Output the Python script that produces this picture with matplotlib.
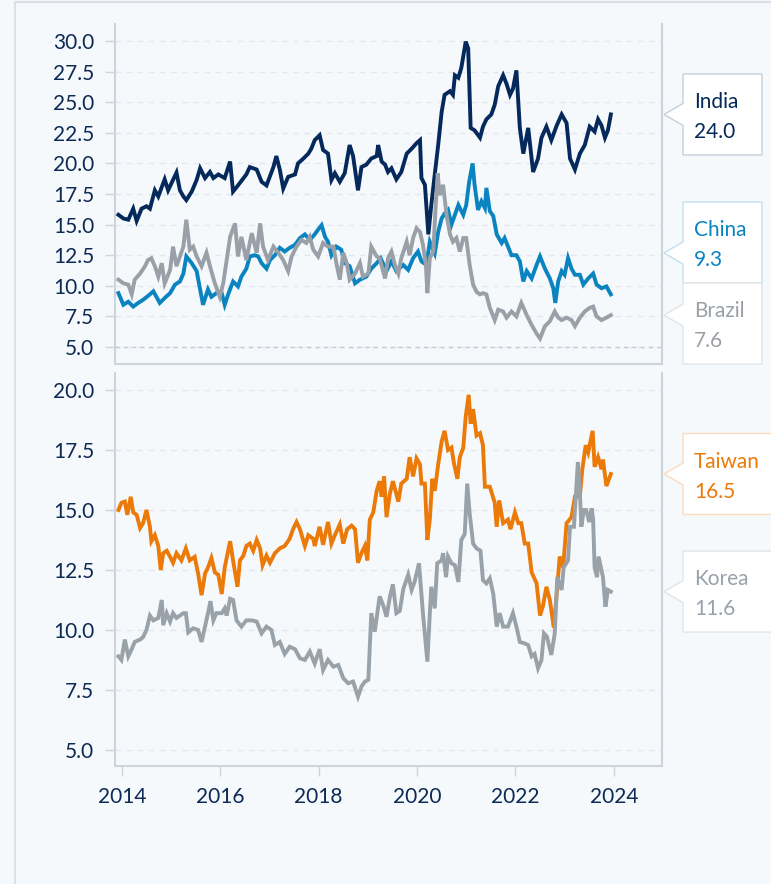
import matplotlib.pyplot as plt
from matplotlib.patches import Polygon
from matplotlib.lines import Line2D

plt.rcParams['font.family'] = ['Lato', 'DejaVu Sans']

W, H = 771, 884
BG = '#f5f9fc'
TEXT = '#0d2a55'
SPINE = '#cdd4dc'
GRID = '#e3e8ee'

# ---- data (decimal years) ----
india_x = [2013.93, 2014.03, 2014.13, 2014.23, 2014.30, 2014.40, 2014.50, 2014.57, 2014.67, 2014.74,
           2014.87, 2014.94, 2015.01, 2015.11, 2015.18, 2015.25, 2015.31, 2015.42, 2015.52, 2015.59,
           2015.69, 2015.79, 2015.86, 2015.96, 2016.09, 2016.20, 2016.26, 2016.36, 2016.53, 2016.60,
           2016.74, 2016.84, 2016.94, 2017.08, 2017.14, 2017.21, 2017.28, 2017.38, 2017.52, 2017.58,
           2017.69, 2017.79, 2017.85, 2017.92, 2018.02, 2018.09, 2018.19, 2018.26, 2018.33, 2018.43,
           2018.53, 2018.63, 2018.70, 2018.80, 2018.87, 2018.97, 2019.07, 2019.18, 2019.21, 2019.28,
           2019.35, 2019.41, 2019.48, 2019.58, 2019.68, 2019.79, 2019.89, 2019.99, 2020.06, 2020.09,
           2020.16, 2020.23, 2020.29, 2020.36, 2020.43, 2020.50, 2020.56, 2020.67, 2020.73, 2020.77,
           2020.84, 2020.90, 2020.99, 2021.04, 2021.09, 2021.17, 2021.28, 2021.34, 2021.41, 2021.51,
           2021.58, 2021.65, 2021.75, 2021.82, 2021.89, 2021.95, 2022.02, 2022.09, 2022.16, 2022.26,
           2022.36, 2022.46, 2022.53, 2022.63, 2022.73, 2022.84, 2022.94, 2023.04, 2023.11, 2023.21,
           2023.31, 2023.41, 2023.51, 2023.61, 2023.68, 2023.75, 2023.82, 2023.88, 2023.94]
india_y = [15.8, 15.5, 15.4, 16.3, 15.3, 16.3, 16.5, 16.3, 17.8, 17.3,
           18.7, 17.8, 18.4, 19.25, 17.8, 17.3, 17.0, 17.7, 18.65, 19.6,
           18.8, 19.3, 18.8, 19.1, 18.8, 20.15, 17.7, 18.2, 19.1, 19.7,
           19.5, 18.5, 18.2, 19.7, 20.6, 19.5, 17.95, 18.9, 19.1, 20.0,
           20.4, 20.8, 21.2, 21.9, 22.3, 21.1, 20.8, 18.65, 19.2, 18.5,
           19.2, 21.5, 20.6, 17.8, 19.7, 19.9, 20.4, 20.6, 21.5, 20.15,
           19.9, 19.3, 19.6, 18.7, 19.3, 20.8, 21.2, 21.65, 21.9, 18.8,
           18.25, 14.2, 16.6, 19.1, 21.5, 24.2, 25.6, 25.9, 25.6, 27.2,
           27.0, 27.8, 29.95, 29.4, 22.9, 22.7, 22.1, 23.0, 23.6, 24.0,
           24.8, 26.3, 27.2, 26.5, 25.6, 26.1, 27.6, 22.9, 20.8, 22.9,
           19.3, 20.4, 22.1, 23.0, 21.9, 23.1, 24.0, 23.3, 20.4, 19.5,
           20.8, 21.5, 23.0, 22.6, 23.6, 23.1, 22.1, 22.7, 24.0]

china_x = [2013.93, 2014.03, 2014.13, 2014.23, 2014.33, 2014.43, 2014.57, 2014.64, 2014.77, 2014.87,
           2014.98, 2015.08, 2015.18, 2015.25, 2015.31, 2015.42, 2015.52, 2015.59, 2015.65, 2015.75,
           2015.82, 2015.92, 2016.03, 2016.09, 2016.16, 2016.26, 2016.36, 2016.43, 2016.53, 2016.60,
           2016.70, 2016.77, 2016.84, 2016.94, 2017.01, 2017.11, 2017.21, 2017.31, 2017.41, 2017.52,
           2017.62, 2017.72, 2017.82, 2017.92, 2017.99, 2018.06, 2018.13, 2018.19, 2018.26, 2018.36,
           2018.46, 2018.53, 2018.63, 2018.74, 2018.84, 2018.97, 2019.07, 2019.18, 2019.26, 2019.38,
           2019.48, 2019.58, 2019.72, 2019.82, 2019.92, 2020.02, 2020.09, 2020.19, 2020.26, 2020.36,
           2020.43, 2020.50, 2020.56, 2020.63, 2020.70, 2020.77, 2020.84, 2020.94, 2021.00, 2021.06,
           2021.13, 2021.17, 2021.24, 2021.31, 2021.38, 2021.41, 2021.48, 2021.55, 2021.62, 2021.72,
           2021.78, 2021.85, 2021.92, 2022.02, 2022.09, 2022.16, 2022.23, 2022.33, 2022.43, 2022.50,
           2022.60, 2022.70, 2022.77, 2022.81, 2022.87, 2022.94, 2023.00, 2023.07, 2023.14, 2023.21,
           2023.31, 2023.38, 2023.48, 2023.58, 2023.65, 2023.75, 2023.85, 2023.94]
china_y = [9.4, 8.45, 8.7, 8.3, 8.6, 8.85, 9.3, 9.55, 8.6, 9.0,
           9.4, 10.1, 10.35, 11.0, 12.4, 11.85, 11.2, 9.7, 8.45, 9.7,
           9.1, 9.4, 9.4, 8.45, 9.3, 10.35, 9.95, 10.75, 11.4, 12.4,
           12.5, 12.4, 11.85, 11.4, 12.1, 12.5, 13.1, 12.8, 13.1, 13.35,
           13.9, 14.2, 13.75, 14.2, 14.6, 14.95, 14.0, 13.6, 12.5, 13.2,
           12.95, 11.85, 11.6, 10.2, 10.5, 10.75, 11.4, 11.85, 12.25, 11.2,
           12.0, 11.2, 11.7, 11.3, 12.26, 12.8, 12.0, 11.7, 13.6, 12.65,
           14.4, 15.5, 15.9, 16.2, 15.0, 15.8, 16.6, 15.8, 16.6, 18.5,
           20.0, 18.25, 16.2, 16.9, 16.35, 18.0, 16.1, 15.7, 14.2, 13.5,
           13.9, 13.2, 12.5, 12.5, 12.0, 10.36, 11.2, 10.6, 11.7, 12.4,
           11.4, 10.6, 9.8, 8.6, 10.36, 11.2, 10.9, 12.26, 11.4, 10.9,
           10.9, 10.1, 10.6, 11.0, 10.1, 9.8, 9.95, 9.3]

brazil_x = [2013.93, 2014.03, 2014.13, 2014.20, 2014.26, 2014.37, 2014.47, 2014.53, 2014.60, 2014.67,
            2014.74, 2014.81, 2014.87, 2014.98, 2015.04, 2015.11, 2015.18, 2015.25, 2015.31, 2015.38,
            2015.45, 2015.52, 2015.62, 2015.72, 2015.79, 2015.89, 2015.99, 2016.06, 2016.13, 2016.20,
            2016.30, 2016.36, 2016.43, 2016.53, 2016.64, 2016.74, 2016.81, 2016.87, 2016.97, 2017.08,
            2017.18, 2017.28, 2017.38, 2017.45, 2017.55, 2017.65, 2017.75, 2017.82, 2017.89, 2017.99,
            2018.09, 2018.19, 2018.30, 2018.36, 2018.43, 2018.50, 2018.57, 2018.63, 2018.74, 2018.84,
            2018.90, 2019.01, 2019.07, 2019.18, 2019.24, 2019.35, 2019.41, 2019.48, 2019.55, 2019.62,
            2019.68, 2019.79, 2019.85, 2019.92, 2019.99, 2020.06, 2020.12, 2020.18, 2020.21, 2020.26,
            2020.33, 2020.38, 2020.42, 2020.46, 2020.53, 2020.60, 2020.67, 2020.73, 2020.80, 2020.87,
            2020.94, 2021.00, 2021.07, 2021.14, 2021.21, 2021.28, 2021.34, 2021.41, 2021.48, 2021.58,
            2021.65, 2021.75, 2021.82, 2021.92, 2022.02, 2022.12, 2022.23, 2022.33, 2022.43, 2022.50,
            2022.60, 2022.70, 2022.80, 2022.87, 2022.94, 2023.04, 2023.14, 2023.21, 2023.31, 2023.41,
            2023.51, 2023.58, 2023.65, 2023.75, 2023.85, 2023.94]
brazil_y = [10.5, 10.2, 10.1, 9.3, 10.5, 11.0, 11.6, 12.1, 12.25, 11.6,
            10.75, 11.85, 10.2, 11.3, 13.2, 11.6, 12.4, 13.2, 15.4, 12.95,
            13.2, 12.4, 11.6, 12.7, 11.6, 10.2, 9.1, 10.2, 12.1, 14.0,
            15.1, 12.4, 14.0, 12.1, 14.3, 12.7, 15.1, 13.2, 12.1, 13.2,
            12.7, 12.1, 11.2, 12.4, 13.2, 13.75, 13.5, 14.0, 12.95, 12.4,
            13.5, 13.2, 13.2, 11.85, 10.5, 12.7, 11.85, 10.5, 11.0, 11.85,
            10.75, 11.0, 13.2, 12.4, 12.26, 10.6, 12.26, 12.8, 11.7, 11.0,
            12.26, 13.6, 12.5, 13.9, 14.7, 14.4, 13.35, 11.7, 9.4, 12.26,
            12.8, 16.6, 19.2, 17.4, 18.25, 15.8, 14.2, 13.6, 13.9, 12.8,
            13.9, 13.9, 11.7, 10.1, 9.5, 9.3, 9.4, 9.3, 8.2, 7.2,
            8.05, 7.9, 7.4, 7.9, 7.5, 8.6, 7.6, 6.8, 6.1, 5.7,
            6.7, 7.1, 7.9, 7.4, 7.2, 7.4, 7.2, 6.7, 7.4, 7.9,
            8.2, 8.3, 7.5, 7.2, 7.4, 7.6]

taiwan_x = [2013.93, 2013.99, 2014.06, 2014.11, 2014.18, 2014.23, 2014.30, 2014.37, 2014.43, 2014.50,
            2014.57, 2014.60, 2014.67, 2014.74, 2014.79, 2014.84, 2014.91, 2014.98, 2015.04, 2015.11,
            2015.21, 2015.30, 2015.38, 2015.48, 2015.55, 2015.62, 2015.69, 2015.75, 2015.82, 2015.89,
            2015.96, 2016.03, 2016.09, 2016.20, 2016.26, 2016.35, 2016.40, 2016.47, 2016.53, 2016.60,
            2016.67, 2016.74, 2016.81, 2016.86, 2016.94, 2017.01, 2017.11, 2017.21, 2017.31, 2017.41,
            2017.48, 2017.55, 2017.62, 2017.72, 2017.79, 2017.89, 2017.92, 2018.02, 2018.09, 2018.16,
            2018.19, 2018.26, 2018.33, 2018.43, 2018.50, 2018.58, 2018.67, 2018.74, 2018.80, 2018.87,
            2018.94, 2018.99, 2019.04, 2019.11, 2019.18, 2019.24, 2019.28, 2019.33, 2019.38, 2019.45,
            2019.51, 2019.62, 2019.68, 2019.79, 2019.85, 2019.92, 2019.99, 2020.06, 2020.09, 2020.16,
            2020.21, 2020.26, 2020.31, 2020.36, 2020.43, 2020.50, 2020.56, 2020.63, 2020.70, 2020.75,
            2020.82, 2020.87, 2020.94, 2020.99, 2021.05, 2021.09, 2021.14, 2021.21, 2021.28, 2021.34,
            2021.38, 2021.48, 2021.58, 2021.62, 2021.67, 2021.75, 2021.85, 2021.90, 2021.99, 2022.06,
            2022.12, 2022.19, 2022.26, 2022.33, 2022.43, 2022.50, 2022.56, 2022.63, 2022.70, 2022.78,
            2022.84, 2022.90, 2022.97, 2023.04, 2023.14, 2023.21, 2023.31, 2023.36, 2023.43, 2023.48,
            2023.53, 2023.57, 2023.61, 2023.68, 2023.75, 2023.78, 2023.85, 2023.94]
taiwan_y = [15.0, 15.3, 15.35, 14.8, 15.55, 14.9, 14.8, 14.25, 14.45, 15.0,
            14.3, 13.7, 13.95, 13.5, 12.5, 13.2, 13.3, 13.05, 12.8, 13.2,
            12.9, 13.4, 12.9, 13.05, 12.35, 11.45, 12.35, 12.6, 13.0, 12.4,
            12.3, 11.5, 12.6, 13.7, 12.9, 11.8, 12.9, 13.1, 13.5, 13.6,
            13.3, 13.75, 13.4, 12.7, 13.1, 12.8, 13.2, 13.4, 13.5, 13.8,
            14.2, 14.5, 14.2, 13.5, 13.95, 13.8, 13.5, 14.3, 13.55, 14.2,
            14.5, 13.6, 13.95, 14.4, 13.6, 14.2, 14.35, 14.2, 12.8, 13.2,
            13.5, 12.9, 14.6, 14.9, 15.8, 16.2, 15.55, 16.4, 14.7, 15.7,
            16.2, 15.35, 16.1, 16.3, 17.2, 16.4, 17.15, 16.9, 16.1, 16.1,
            13.75, 14.6, 16.3, 15.8, 16.9, 17.85, 18.3, 17.5, 17.6, 16.95,
            16.3, 17.2, 17.6, 18.9, 19.8, 18.6, 19.2, 18.1, 18.2, 17.7,
            15.97, 15.97, 15.3, 14.3, 15.4, 14.45, 14.6, 14.2, 14.9, 14.45,
            14.45, 13.6, 13.6, 12.4, 11.95, 10.6, 11.0, 11.8, 11.25, 10.1,
            11.5, 13.06, 12.6, 14.45, 14.7, 15.56, 15.56, 16.7, 17.7, 17.4,
            17.9, 18.3, 16.8, 17.2, 16.7, 17.1, 16.0, 16.5]

korea_x = [2013.93, 2013.99, 2014.06, 2014.13, 2014.20, 2014.26, 2014.37, 2014.43, 2014.50, 2014.57,
           2014.64, 2014.74, 2014.81, 2014.84, 2014.91, 2014.98, 2015.04, 2015.11, 2015.18, 2015.25,
           2015.30, 2015.35, 2015.45, 2015.55, 2015.62, 2015.69, 2015.75, 2015.80, 2015.86, 2015.92,
           2016.03, 2016.09, 2016.13, 2016.20, 2016.26, 2016.33, 2016.43, 2016.53, 2016.64, 2016.74,
           2016.84, 2016.94, 2017.04, 2017.11, 2017.21, 2017.31, 2017.41, 2017.52, 2017.62, 2017.72,
           2017.82, 2017.92, 2018.02, 2018.09, 2018.19, 2018.30, 2018.40, 2018.50, 2018.60, 2018.70,
           2018.80, 2018.87, 2018.94, 2019.01, 2019.07, 2019.14, 2019.24, 2019.31, 2019.38, 2019.45,
           2019.51, 2019.58, 2019.65, 2019.72, 2019.82, 2019.89, 2019.95, 2020.04, 2020.12, 2020.21,
           2020.26, 2020.29, 2020.36, 2020.41, 2020.50, 2020.53, 2020.59, 2020.63, 2020.70, 2020.77,
           2020.84, 2020.90, 2020.97, 2021.02, 2021.07, 2021.14, 2021.21, 2021.29, 2021.34, 2021.41,
           2021.48, 2021.55, 2021.62, 2021.68, 2021.75, 2021.85, 2021.95, 2022.02, 2022.09, 2022.19,
           2022.26, 2022.33, 2022.39, 2022.46, 2022.53, 2022.58, 2022.64, 2022.73, 2022.80, 2022.85,
           2022.94, 2022.98, 2023.07, 2023.11, 2023.19, 2023.24, 2023.27, 2023.31, 2023.34, 2023.39,
           2023.44, 2023.50, 2023.55, 2023.58, 2023.61, 2023.66, 2023.69, 2023.75, 2023.78, 2023.83,
           2023.88, 2023.94]
korea_y = [8.9, 8.75, 9.6, 8.9, 9.2, 9.5, 9.6, 9.7, 10.0, 10.6,
           10.4, 10.5, 11.25, 10.2, 10.7, 10.35, 10.7, 10.5, 10.6, 10.7,
           10.7, 9.9, 10.07, 10.0, 9.5, 10.14, 10.7, 11.2, 10.4, 10.7,
           10.7, 10.9, 10.6, 11.3, 11.25, 10.4, 10.14, 10.4, 10.4, 10.35,
           9.86, 10.14, 10.0, 9.375, 9.5, 9.0, 9.3, 9.2, 8.82, 8.75,
           9.1, 8.6, 9.2, 8.33, 8.75, 8.47, 8.54, 7.99, 7.78, 7.85,
           7.22, 7.64, 7.85, 7.92, 10.7, 9.93, 11.4, 11.04, 10.55, 11.4,
           11.9, 10.7, 10.8, 11.7, 12.3, 11.67, 12.0, 12.78, 10.7, 8.68,
           10.7, 11.8, 10.9, 12.78, 12.9, 13.2, 12.2, 13.06, 12.78, 12.7,
           12.0, 13.75, 14.0, 16.1, 14.86, 13.6, 13.4, 13.3, 12.08, 11.94,
           12.15, 11.5, 10.14, 10.7, 10.14, 10.14, 10.7, 10.14, 9.5, 9.44,
           9.37, 8.9, 9.0, 8.4, 8.75, 9.86, 9.72, 8.96, 9.86, 12.2,
           11.67, 12.6, 12.9, 14.3, 14.3, 15.97, 17.0, 15.8, 14.3, 15.0,
           15.0, 14.5, 15.07, 14.6, 12.6, 12.2, 13.06, 12.5, 12.2, 10.97,
           11.67, 11.6]

top_series = [('India', india_x, india_y, '#04295a', '#c6cfda'),
              ('China', china_x, china_y, '#0a84c0', '#c2e0ef'),
              ('Brazil', brazil_x, brazil_y, '#9aa0a7', '#e2e5e8')]
bottom_series = [('Taiwan', taiwan_x, taiwan_y, '#ec7a08', '#fbdcbc'),
                 ('Korea', korea_x, korea_y, '#99a1a9', '#e1e5e9')]
x_ticks = [2014, 2016, 2018, 2020, 2022, 2024]
top_ticks = [5.0, 7.5, 10.0, 12.5, 15.0, 17.5, 20.0, 22.5, 25.0, 27.5, 30.0]
bottom_ticks = [5.0, 7.5, 10.0, 12.5, 15.0, 17.5, 20.0]

fig = plt.figure(figsize=(W / 100, H / 100), dpi=100, facecolor=BG)

# figure frame (left and top edges only visible)
fig.add_artist(Line2D([15 / W, 15 / W], [0, 1 - 2 / H], transform=fig.transFigure,
                      color='#dbe0e6', lw=1.5))
fig.add_artist(Line2D([15 / W, 1], [1 - 2 / H, 1 - 2 / H], transform=fig.transFigure,
                      color='#dbe0e6', lw=1.5))


def px_axes(left, top, right, bottom):
    return fig.add_axes([left / W, 1 - bottom / H, (right - left) / W, (bottom - top) / H])


ax1 = px_axes(115, 24, 662, 364)
ax2 = px_axes(115, 373, 662, 766)

for ax, ticks, lim in ((ax1, top_ticks, (3.61, 31.39)), (ax2, bottom_ticks, (4.33, 20.71))):
    ax.set_facecolor(BG)
    ax.spines['top'].set_visible(False)
    for s in ('left', 'right', 'bottom'):
        ax.spines[s].set_color(SPINE)
        ax.spines[s].set_linewidth(1.5)
    ax.set_xlim(2013.86, 2024.98)
    ax.set_ylim(*lim)
    ax.set_yticks(ticks)
    ax.set_yticklabels([f'{t:.1f}' for t in ticks])
    ax.tick_params(axis='y', length=7, width=1, color=SPINE, labelcolor=TEXT,
                   labelsize=15, pad=8)
    ax.grid(axis='y', color=GRID, linestyle=(0, (4, 4)), linewidth=1)
    ax.set_axisbelow(True)

ax1.axhline(5.0, color='#c3c9d0', linestyle=(0, (3, 3)), linewidth=1, zorder=1)
ax1.tick_params(axis='x', length=0, labelbottom=False)
ax2.set_xticks(x_ticks)
ax2.set_xticklabels([str(t) for t in x_ticks])
ax2.tick_params(axis='x', length=7, width=1, color=SPINE, labelcolor=TEXT,
                labelsize=15, pad=8)

for ax, series in ((ax1, top_series), (ax2, bottom_series)):
    for name, xs, ys, color, edge in series:
        ax.plot(xs, ys, color=color, lw=2.8, solid_joinstyle='miter', zorder=3)


def px_to_fig(x, y):
    return x / W, 1 - y / H


def callouts(ax, series, top_px, bot_px, box_w, box_h=81):
    vals = []
    for name, xs, ys, color, edge in series:
        yd = ax.transData.transform((xs[-1], ys[-1]))[1]
        vals.append(H - yd)
    centers = list(vals)
    for i in range(len(centers)):
        centers[i] = max(centers[i], top_px + box_h / 2)
        if i:
            centers[i] = max(centers[i], centers[i - 1] + box_h)
    for i in reversed(range(len(centers))):
        centers[i] = min(centers[i], bot_px - box_h / 2)
        if i < len(centers) - 1:
            centers[i] = min(centers[i], centers[i + 1] - box_h)
    for (name, xs, ys, color, edge), v, c in zip(series, vals, centers):
        tip = min(max(v, c - 10.5), c + 10.5)
        top, bot = c - box_h / 2, c + box_h / 2
        left, right = 683, 683 + box_w
        pts = [(left, top), (right, top), (right, bot), (left, bot),
               (left, tip + 11), (664, tip), (left, tip - 11)]
        fig.add_artist(Polygon([px_to_fig(*p) for p in pts], closed=True,
                               transform=fig.transFigure, facecolor='white',
                               edgecolor=edge, lw=1))
        fig.text(*px_to_fig(694, top + 34), name, color=color, fontsize=15,
                 va='baseline', ha='left')
        fig.text(*px_to_fig(694, top + 64), f'{ys[-1]:.1f}', color=color, fontsize=15,
                 va='baseline', ha='left')


callouts(ax1, top_series, 24, 364, 79)
callouts(ax2, bottom_series, 373, 766, 95)

fig.savefig('out.png', dpi=100, facecolor=BG)
